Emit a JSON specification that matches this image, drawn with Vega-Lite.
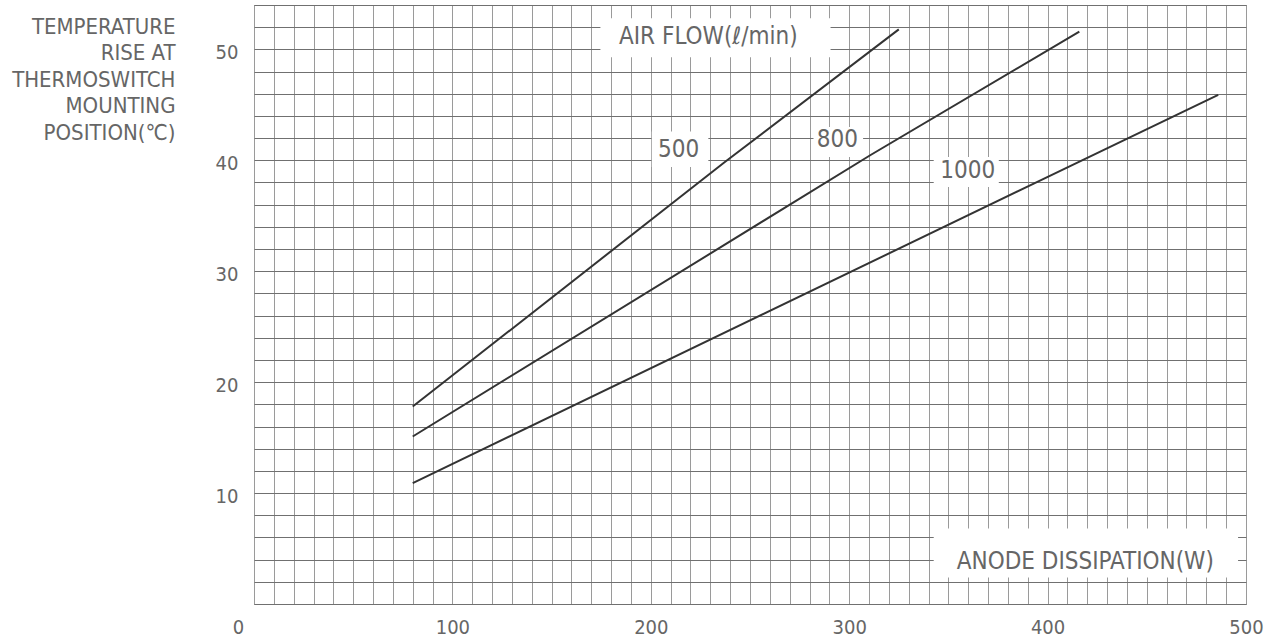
{
  "$schema": "https://vega.github.io/schema/vega-lite/v6.json",
  "width": 992,
  "height": 599,
  "autosize": "none",
  "padding": {"left": 254, "top": 5, "right": 31, "bottom": 37},
  "background": "white",
  "datasets": {
    "curves": [
      {"flow": "500", "power": 80, "rise": 17.8},
      {"flow": "500", "power": 237, "rise": 39.8},
      {"flow": "500", "power": 325, "rise": 51.8},
      {"flow": "800", "power": 80, "rise": 15.1},
      {"flow": "800", "power": 311, "rise": 40.5},
      {"flow": "800", "power": 416, "rise": 51.6},
      {"flow": "1000", "power": 80, "rise": 10.9},
      {"flow": "1000", "power": 393, "rise": 37.9},
      {"flow": "1000", "power": 486, "rise": 45.9}
    ],
    "labels": [
      {"text": "AIR FLOW(ℓ/min)", "px": 229, "py": 51.1, "x0": 174.6, "x1": 290.6, "y0": 49.3, "y1": 52.8},
      {"text": "500", "px": 214, "py": 40.9, "x0": 200.5, "x1": 229, "y0": 39.4, "y1": 42.6},
      {"text": "800", "px": 294, "py": 41.8, "x0": 282, "x1": 307, "y0": 40.3, "y1": 43},
      {"text": "1000", "px": 359.7, "py": 39, "x0": 342.6, "x1": 375.4, "y0": 37.6, "y1": 40.3},
      {"text": "ANODE DISSIPATION(W)", "px": 419, "py": 3.8, "x0": 342.6, "x1": 496, "y0": 2.4, "y1": 6.8}
    ]
  },
  "layer": [
    {
      "data": {"name": "curves"},
      "mark": {"type": "line", "color": "#333333", "strokeWidth": 2},
      "encoding": {
        "x": {
          "field": "power",
          "type": "quantitative",
          "scale": {"domain": [0, 500], "nice": false},
          "axis": {
            "title": null,
            "format": "d",
            "tickCount": 200,
            "values": [0, 10, 20, 30, 40, 50, 60, 70, 80, 90, 100, 110, 120, 130, 140, 150, 160, 170, 180, 190, 200, 210, 220, 230, 240, 250, 260, 270, 280, 290, 300, 310, 320, 330, 340, 350, 360, 370, 380, 390, 400, 410, 420, 430, 440, 450, 460, 470, 480, 490, 500],
            "labelExpr": "datum.value % 100 == 0 ? datum.label : ''",
            "labelOffset": {"condition": {"test": "datum.value == 0", "value": -16}, "value": 0},
            "labelOverlap": false,
            "labelFlush": false,
            "ticks": false,
            "domain": false,
            "labelPadding": 13,
            "labelBaseline": "top",
            "gridColor": "#9a9a9a",
            "gridWidth": 1
          }
        },
        "y": {
          "field": "rise",
          "type": "quantitative",
          "scale": {"domain": [0, 54], "nice": false},
          "axis": {
            "format": "d",
            "tickCount": 200,
            "values": [0, 2, 4, 6, 8, 10, 12, 14, 16, 18, 20, 22, 24, 26, 28, 30, 32, 34, 36, 38, 40, 42, 44, 46, 48, 50, 52, 54],
            "labelExpr": "datum.value % 10 == 0 && datum.value > 0 ? datum.label : ''",
            "labelOverlap": false,
            "labelFlush": false,
            "ticks": false,
            "domain": false,
            "labelPadding": 16,
            "labelOffset": 3,
            "gridColor": "#707070",
            "gridWidth": 1,
            "title": ["TEMPERATURE", "RISE AT", "THERMOSWITCH", "MOUNTING", "POSITION(℃)"],
            "titleAngle": 0,
            "titleAlign": "right",
            "titleBaseline": "top",
            "titleX": -79,
            "titleY": 11,
            "titleLineHeight": 26.5,
            "titleFont": "DejaVu Sans Condensed",
            "titleFontSize": 22,
            "titleFontWeight": "normal",
            "titleColor": "#666666"
          }
        },
        "detail": {"field": "flow", "type": "nominal"}
      }
    },
    {
      "data": {"name": "labels"},
      "mark": {"type": "rect", "fill": "white", "stroke": null},
      "encoding": {
        "x": {"field": "x0", "type": "quantitative"},
        "x2": {"field": "x1"},
        "y": {"field": "y0", "type": "quantitative"},
        "y2": {"field": "y1"}
      }
    },
    {
      "data": {"name": "labels"},
      "mark": {"type": "text", "font": "DejaVu Sans Condensed", "fontSize": 24, "color": "#666666", "align": "center", "baseline": "middle"},
      "encoding": {
        "x": {"field": "px", "type": "quantitative"},
        "y": {"field": "py", "type": "quantitative"},
        "text": {"field": "text"}
      }
    }
  ],
  "config": {
    "view": {"stroke": "#707070", "strokeWidth": 1},
    "axis": {
      "labelFont": "DejaVu Sans Condensed",
      "labelFontSize": 20,
      "labelColor": "#666666",
      "gridOpacity": 1
    }
  }
}
